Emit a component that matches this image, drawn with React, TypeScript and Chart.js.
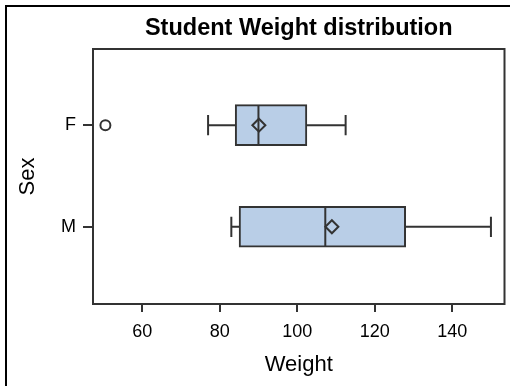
import React, { useEffect, useRef } from "react";
import { Chart, registerables } from "chart.js";

Chart.register(...registerables);

const categories = ["F", "M"];
const q1 = [84, 85];
const medians = [90, 107.25];
const q3 = [102.5, 128];
const means = [90.11, 108.95];
const whiskerLow = [77, 83];
const whiskerHigh = [112.5, 150];
const outlierValues = [50.5];
const outlierCategory = [0];
const xTicks = [60, 80, 100, 120, 140];

const FONT = "'Liberation Sans', Arial, Helvetica, sans-serif";
const LINE = "#333333";
const FILL = "#B9CEE7";
const CAP = 0.1;
const BOXHALF = 0.2;

function seg(x1: number, y1: number, x2: number, y2: number) {
  return {
    type: "line" as const,
    data: [
      { x: x1, y: y1 },
      { x: x2, y: y2 },
    ],
    borderColor: LINE,
    borderWidth: 2,
    pointRadius: 0,
    fill: false,
    order: 1,
  };
}

export default function App() {
  const ref = useRef<HTMLCanvasElement | null>(null);

  useEffect(() => {
    if (!ref.current) return;
    const segments: any[] = [];
    categories.forEach((_, i) => {
      segments.push(seg(whiskerLow[i], i, q1[i], i));
      segments.push(seg(q3[i], i, whiskerHigh[i], i));
      segments.push(seg(whiskerLow[i], i - CAP, whiskerLow[i], i + CAP));
      segments.push(seg(whiskerHigh[i], i - CAP, whiskerHigh[i], i + CAP));
      segments.push(seg(medians[i], i - BOXHALF, medians[i], i + BOXHALF));
    });

    const framePlugin = {
      id: "frame",
      afterDatasetsDraw(chart: any) {
        const { ctx, chartArea } = chart;
        ctx.save();
        ctx.strokeStyle = LINE;
        ctx.lineWidth = 2;
        ctx.strokeRect(
          chartArea.left,
          chartArea.top,
          chartArea.right - chartArea.left,
          chartArea.bottom - chartArea.top
        );
        ctx.restore();
      },
    };

    const chart = new Chart(ref.current, {
      type: "bar",
      data: {
        datasets: [
          {
            type: "bar",
            indexAxis: "y",
            data: categories.map((_, i) => ({ x: [q1[i], q3[i]], y: i })),
            backgroundColor: FILL,
            borderColor: LINE,
            borderWidth: 2,
            borderSkipped: false,
            barThickness: 41,
            order: 10,
          } as any,
          ...segments,
          {
            type: "scatter",
            data: categories.map((_, i) => ({ x: means[i], y: i })),
            pointStyle: "rectRot",
            pointRadius: 6.5,
            borderColor: LINE,
            borderWidth: 2,
            backgroundColor: "rgba(0,0,0,0)",
            order: 0,
          } as any,
          {
            type: "scatter",
            data: outlierValues.map((v, k) => ({ x: v, y: outlierCategory[k] })),
            pointStyle: "circle",
            pointRadius: 5,
            borderColor: LINE,
            borderWidth: 2,
            backgroundColor: "rgba(0,0,0,0)",
            order: 0,
          } as any,
        ],
      },
      options: {
        animation: false,
        responsive: true,
        maintainAspectRatio: false,
        layout: { padding: { left: 0, right: 0, top: 0, bottom: 0 } },
        plugins: {
          legend: { display: false },
          tooltip: { enabled: false },
          title: {
            display: true,
            text: "Student Weight distribution",
            fullSize: false,
            color: "#000",
            font: { family: FONT, size: 23.5, weight: "bold" },
            padding: { top: 14.9, bottom: 5.9 },
          },
        },
        scales: {
          x: {
            type: "linear",
            position: "bottom",
            offset: false,
            min: 47.3,
            max: 153.5,
            afterBuildTicks: (s: any) => {
              s.ticks = xTicks.map((v) => ({ value: v }));
            },
            afterFit: (s: any) => {
              s.height = 82;
              s.paddingLeft = 0;
              s.paddingRight = 0;
            },
            grid: {
              display: true,
              offset: false,
              drawOnChartArea: false,
              drawTicks: true,
              tickLength: 8,
              color: LINE,
              lineWidth: 2,
            },
            border: { display: false },
            ticks: {
              color: "#000",
              padding: 9,
              font: { family: FONT, size: 18 },
            },
            title: {
              display: true,
              text: "Weight",
              color: "#000",
              font: { family: FONT, size: 22 },
              padding: { top: 0, bottom: 7.5 },
            },
          },
          y: {
            type: "linear",
            position: "left",
            offset: false,
            min: -0.75,
            max: 1.76,
            reverse: true,
            afterBuildTicks: (s: any) => {
              s.ticks = categories.map((_, i) => ({ value: i }));
            },
            afterFit: (s: any) => {
              s.width = 93;
              s.paddingTop = 0;
              s.paddingBottom = 0;
            },
            grid: {
              display: true,
              offset: false,
              drawOnChartArea: false,
              drawTicks: true,
              tickLength: 10,
              color: LINE,
              lineWidth: 2,
            },
            border: { display: false },
            ticks: {
              color: "#000",
              padding: 7,
              font: { family: FONT, size: 18 },
              callback: (v: any) => categories[Number(v)] ?? "",
            },
            title: {
              display: true,
              text: "Sex",
              color: "#000",
              font: { family: FONT, size: 22 },
              padding: { top: 14.8, bottom: 0 },
            },
          },
        },
      },
      plugins: [framePlugin],
    } as any);

    return () => chart.destroy();
  }, []);

  return (
    <div
      style={{
        position: "absolute",
        left: 0,
        top: 0,
        width: 510,
        height: 386,
        overflow: "hidden",
        background: "#fff",
      }}
    >
      <div
        style={{
          position: "absolute",
          left: 5,
          top: 5,
          width: 700,
          height: 700,
          borderTop: "2px solid #000",
          borderLeft: "2px solid #000",
        }}
      />
      <div style={{ position: "absolute", left: 0, top: 0, width: 513, height: 386 }}>
        <canvas ref={ref} />
      </div>
    </div>
  );
}
